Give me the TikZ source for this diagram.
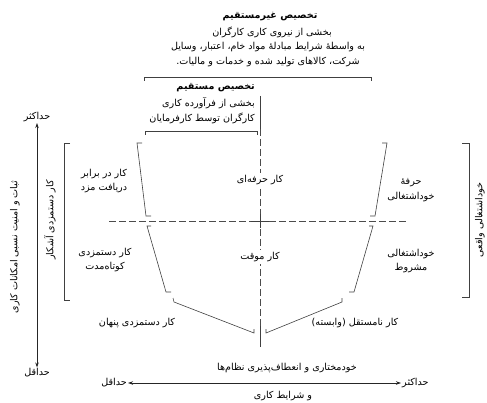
\documentclass[tikz,border=0pt]{standalone}
\usepackage{fontspec}
\TeXXeTstate=1
\newfontfamily\arabicfont[Script=Arabic]{DejaVu Sans}
\usetikzlibrary{arrows.meta}
\newcommand{\fa}[1]{\beginR #1\endR}
\begin{document}
\begin{tikzpicture}[x=1pt,y=-1pt,
  lbl/.style={font=\arabicfont\fontsize{9.6}{14.5}\selectfont, inner sep=1pt, align=center, text=black},
  ttl/.style={lbl, font=\arabicfont\bfseries\fontsize{9.6}{14.5}\selectfont},
  cut/.style={lbl, fill=white, inner sep=2pt},
  brk/.style={draw=black!75, line width=0.6pt},
  dsh/.style={draw=black!70, line width=0.6pt, dash pattern=on 7pt off 3pt},
  axis/.style={draw=black!85, line width=0.7pt, {Stealth[length=5pt,width=3.5pt]}-{Stealth[length=5pt,width=3.5pt]}}]
\useasboundingbox (0,0) rectangle (487,403);

% ---- top texts
\node[ttl] (indT) at (270,17) {\fa{تخصیص غیرمستقیم}};
\node[lbl] (ind1) at (272,32) {\fa{بخشی از نیروی کاری کارگران}};
\node[lbl] (ind2) at (268,47) {\fa{به واسطهٔ شرایط مبادلهٔ مواد خام، اعتبار، وسایل}};
\node[lbl] (ind3) at (268,62) {\fa{شرکت، کالاهای تولید شده و خدمات و مالیات.}};
\coordinate (tb1) at (144,81); \coordinate (tb2) at (144,77);
\coordinate (tb3) at (371,77); \coordinate (tb4) at (371,81);
\draw[brk] (tb1) -- (tb2) -- (tb3) -- (tb4);

\node[ttl, anchor=east] (dirT) at (256,88) {\fa{تخصیص مستقیم}};
\node[lbl, anchor=east] (dir1) at (256,103) {\fa{بخشی از فرآورده کاری}};
\node[lbl, anchor=east] (dir2) at (256,118) {\fa{کارگران توسط کارفرمایان}};
\coordinate (sb1) at (145,135); \coordinate (sb2) at (145,131);
\coordinate (sb3) at (257,131); \coordinate (sb4) at (257,135);
\draw[brk] (sb1) -- (sb2) -- (sb3) -- (sb4);

% ---- central axis
\coordinate (vT) at (260,96); \coordinate (vA) at (260,129);
\coordinate (vB) at (260,326); \coordinate (vE) at (260,347);
\draw[brk] (vT) -- (vA);
\draw[dsh] (vA) -- (vB);
\draw[brk] (vB) -- (vE);
\coordinate (hL) at (109,221); \coordinate (hR) at (408,221);
\draw[dsh] (hL) -- (hR);
\coordinate (cx) at (260,221);
\draw[brk] ([yshift=-7pt]cx) -- ([yshift=7pt]cx);
\draw[brk] ([xshift=-9pt]cx) -- ([xshift=9pt]cx);

% ---- cup brackets
\coordinate (lu1) at (142,143); \coordinate (lu2) at (137,143);
\coordinate (lu3) at (146,216); \coordinate (lu4) at (151,216);
\draw[brk] (lu1) -- (lu2) -- (lu3) -- (lu4);
\coordinate (ll1) at (151,226); \coordinate (ll2) at (147,226);
\coordinate (ll3) at (166,292); \coordinate (ll4) at (171,292);
\draw[brk] (ll1) -- (ll2) -- (ll3) -- (ll4);
\coordinate (ru1) at (382,143); \coordinate (ru2) at (387,143);
\coordinate (ru3) at (375,216); \coordinate (ru4) at (370,216);
\draw[brk] (ru1) -- (ru2) -- (ru3) -- (ru4);
\coordinate (rl1) at (369,226); \coordinate (rl2) at (373,226);
\coordinate (rl3) at (354,292); \coordinate (rl4) at (349,292);
\draw[brk] (rl1) -- (rl2) -- (rl3) -- (rl4);
% V bracket
\coordinate (va1) at (173,298); \coordinate (va2) at (174,302);
\coordinate (va3) at (254,333); \coordinate (va4) at (254,329);
\draw[brk] (va1) -- (va2) -- (va3) -- (va4);
\coordinate (vb1) at (266,329); \coordinate (vb2) at (266,333);
\coordinate (vb3) at (342,302); \coordinate (vb4) at (342,298);
\draw[brk] (vb1) -- (vb2) -- (vb3) -- (vb4);

% ---- inner labels
\node[cut] (prof) at (260,180) {\fa{کار حرفه‌ای}};
\node[cut] (temp) at (260,257) {\fa{کار موقت}};
\node[lbl] (wage) at (104,181) {\fa{کار در برابر}\\\fa{دریافت مزد}};
\node[lbl] (short) at (105,260) {\fa{کار دستمزدی}\\\fa{کوتاه‌مدت}};
\node[lbl] (selfp) at (411,190) {\fa{حرفهٔ}\\\fa{خوداشتغالی}};
\node[lbl] (selfc) at (411,261) {\fa{خوداشتغالی}\\\fa{مشروط}};
\node[lbl] (hidden) at (137,323) {\fa{کار دستمزدی پنهان}};
\node[lbl] (dep) at (355,323) {\fa{کار نامستقل (وابسته)}};

% ---- left side
\coordinate (lb1) at (70,143); \coordinate (lb2) at (64,143);
\coordinate (lb3) at (64,300); \coordinate (lb4) at (70,300);
\draw[brk] (lb1) -- (lb2) -- (lb3) -- (lb4);
\node[lbl, rotate=90] (open) at (50,220) {\fa{کار دستمزدی آشکار}};
\node[lbl] (lmax) at (37,117) {\fa{حداکثر}};
\node[lbl] (lmin) at (37,373) {\fa{حداقل}};
\draw[axis] (lmax) -- (lmin);
\node[lbl, rotate=90] (stab) at (15,247) {\fa{ثبات و امنیت نسبی امکانات کاری}};

% ---- right side
\coordinate (rb1) at (462,143); \coordinate (rb2) at (469,143);
\coordinate (rb3) at (469,297); \coordinate (rb4) at (462,297);
\draw[brk] (rb1) -- (rb2) -- (rb3) -- (rb4);
\node[lbl, rotate=90] (real) at (480,220) {\fa{خوداشتغالی واقعی}};

% ---- bottom axis
\node[lbl, anchor=east] (bmin) at (128,383) {\fa{حداقل}};
\node[lbl, anchor=west] (bmax) at (401,383) {\fa{حداکثر}};
\draw[axis] (bmin) -- (bmax);
\node[lbl] (autoA) at (287,368) {\fa{خودمختاری و انعطاف‌پذیری نظام‌ها}};
\node[lbl] (autoB) at (283,396) {\fa{و شرایط کاری}};
\end{tikzpicture}
\end{document}
